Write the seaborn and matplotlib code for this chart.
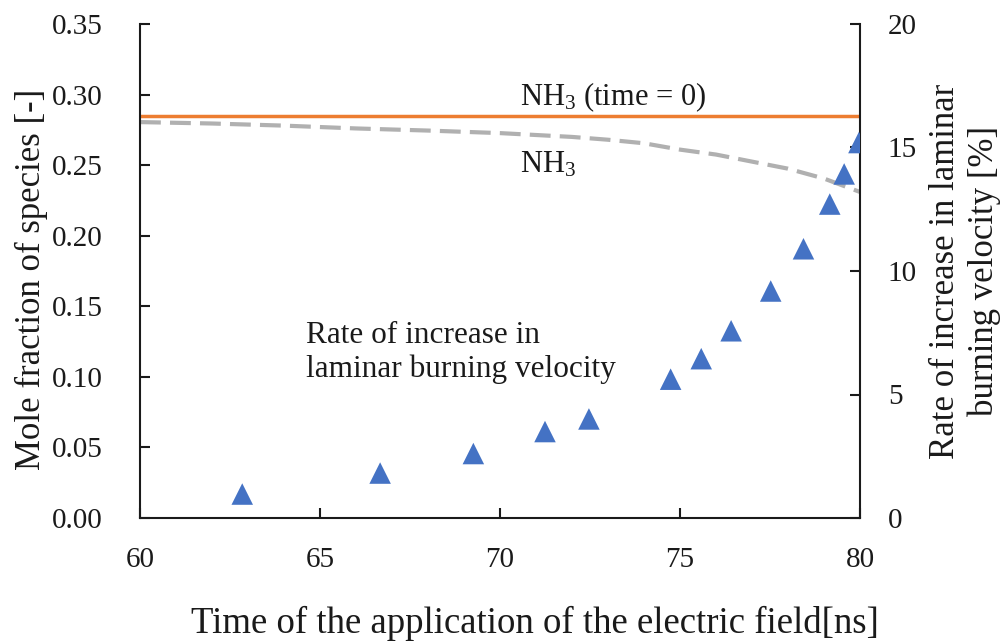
import matplotlib
matplotlib.use("Agg")
import matplotlib.pyplot as plt
import seaborn as sns
import pandas as pd

# Time of field application [ns]
field_time = [62.84, 66.67, 69.26, 71.25, 72.47, 74.74, 75.59, 76.42,
              77.52, 78.43, 79.16, 79.56, 79.97]
# Rate of increase in laminar burning velocity [%]
burning_rate = [0.97, 1.82, 2.61, 3.50, 4.01, 5.62, 6.45, 7.58,
                9.19, 10.90, 12.71, 13.93, 15.20]

# NH3 mole fraction versus time
nh3_time = [60, 62, 64, 65, 66, 68, 70, 72, 73, 74, 75, 76, 77, 78, 79, 80]
nh3_frac = [0.2805, 0.2795, 0.2780, 0.2770, 0.2760, 0.2745, 0.2727, 0.2700,
            0.2680, 0.2655, 0.2610, 0.2575, 0.2525, 0.2475, 0.2405, 0.2310]

# Initial NH3 mole fraction (time = 0)
nh3_init_time = [60, 80]
nh3_init_frac = [0.285, 0.285]

left_ticks = [0.00, 0.05, 0.10, 0.15, 0.20, 0.25, 0.30, 0.35]
right_ticks = [0, 5, 10, 15, 20]
x_ticks = [60, 65, 70, 75, 80]

sns.set_theme(style="ticks")
plt.rcParams["font.family"] = ["Liberation Serif", "DejaVu Serif"]
plt.rcParams["mathtext.fontset"] = "custom"
plt.rcParams["mathtext.rm"] = "Liberation Serif"
plt.rcParams["mathtext.it"] = "Liberation Serif:italic"

fig = plt.figure(figsize=(10.05, 6.42), dpi=100)
ax = fig.add_axes([140 / 1005, 124 / 642, 720 / 1005, 494 / 642])
ax2 = ax.twinx()

sns.lineplot(x=nh3_init_time, y=nh3_init_frac, ax=ax, color="#ED7D31",
             linewidth=2.5)
sns.lineplot(x=nh3_time, y=nh3_frac, ax=ax, color="#B0B0B0",
             linewidth=3.0, dashes=False)
ax.lines[-1].set_dashes((5.0, 2.2))

sns.scatterplot(data=pd.DataFrame({"t": field_time, "r": burning_rate}),
                x="t", y="r", ax=ax2, marker="^", s=240, color="#4472C4",
                edgecolor="none", zorder=5)

ax.set_xlim(60, 80)
ax.set_ylim(0, 0.35)
ax2.set_ylim(0, 20)
ax.set_xticks(x_ticks)
ax.set_yticks(left_ticks)
ax.set_yticklabels([f"{v:.2f}" for v in left_ticks])
ax2.set_yticks(right_ticks)

spine_color = "#1a1a1a"
for a in (ax, ax2):
    a.spines["top"].set_visible(False)
    for s in ("left", "right", "bottom"):
        a.spines[s].set_linewidth(1.5)
        a.spines[s].set_color(spine_color)
    a.grid(False)
ax.spines["right"].set_visible(False)
ax2.spines["left"].set_visible(False)
ax2.spines["bottom"].set_visible(False)

ax.tick_params(axis="x", direction="in", length=7, width=1.5,
               color=spine_color, labelsize=21, pad=21, labelcolor="#1a1a1a")
ax.tick_params(axis="y", direction="in", length=7, width=1.5,
               color=spine_color, labelsize=21, pad=27, labelcolor="#1a1a1a")
ax2.tick_params(axis="y", direction="in", length=7, width=1.5,
                color=spine_color, labelsize=21, pad=20, labelcolor="#1a1a1a")

ax.set_xlabel("Time of the application of the electric field[ns]",
              fontsize=26.5, color="#1a1a1a")
ax.xaxis.set_label_coords(0.549, -0.178)
ax.set_ylabel("Mole fraction of species [-]", fontsize=25, color="#1a1a1a")
ax.yaxis.set_label_coords(-0.128, 0.484)
ax2.set_ylabel("Rate of increase in laminar\nburning velocity [%]",
               fontsize=25, color="#1a1a1a", linespacing=1.2)
ax2.yaxis.set_label_coords(1.096, 0.5)

ax.text(70.56, 0.298, r"NH$_3$ (time = 0)", fontsize=22, color="#1a1a1a",
        ha="left", va="center")
ax.text(70.56, 0.250, r"NH$_3$", fontsize=22, color="#1a1a1a",
        ha="left", va="center")
ax.text(64.6, 0.1175, "Rate of increase in\nlaminar burning velocity",
        fontsize=22.5, color="#1a1a1a", ha="left", va="center",
        linespacing=1.2)

fig.savefig("out.png", dpi=100)
